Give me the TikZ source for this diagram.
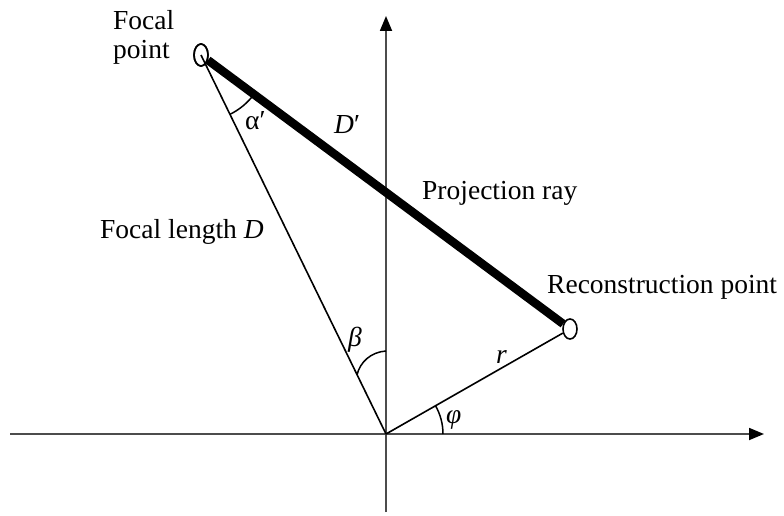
\documentclass[tikz,border=0pt]{standalone}
\usepackage{fontspec}
\setmainfont{Liberation Serif}
\usetikzlibrary{arrows.meta,shapes.geometric}
\begin{document}
\begin{tikzpicture}[x=1pt,y=-1pt,
  lbl/.style={anchor=base west,inner sep=0pt,font=\fontsize{27.5}{30}\selectfont},
  axisline/.style={draw=black!70,line width=1.8pt,-{Triangle[length=15pt,width=12pt,fill=black,color=black]}},
  rayline/.style={draw=black,line width=1.6pt},
  thickray/.style={draw=black,line width=8.5pt},
  anglearc/.style={draw=black,line width=1.5pt},
  ptmark/.style={ellipse,draw=black,line width=1.6pt,minimum width=14pt,minimum height=22pt,inner sep=0pt,fill=white}
]
\useasboundingbox (0,0) rectangle (784,516);
\coordinate (O) at (386,434);
\coordinate (xs) at (10,434);
\coordinate (xe) at (764,434);
\coordinate (ys) at (386,512);
\coordinate (ye) at (386,16);
\draw[axisline] (xs) -- (xe);
\draw[axisline] (ys) -- (ye);
\node[ptmark] (F) at (201,55) {};
\node[ptmark,minimum height=20pt] (R) at (570,329) {};
\draw[rayline] (F.center) -- (O);
\draw[rayline] (O) -- (R);
\draw[thickray] (F) -- (R);
\node[ptmark,fill=none] at (F.center) {};
% angle arcs
\draw[anglearc] ([shift={(63.98:66)}]F.center) arc[start angle=63.98,end angle=36.6,radius=66];
\draw[anglearc] ([shift={(0:57)}]O) arc[start angle=0,end angle=-30,radius=57];
\coordinate (b1) at (386,351);
\coordinate (b2) at (357,375);
\draw[anglearc] (b1) .. controls (371,352) and (360,362) .. (b2);
% labels
\node[lbl] (lfocal) at (113,30) {Focal};
\node[lbl] (lpoint) at (113,59) {point};
\node[lbl] (lalpha) at (245,130) {α′};
\node[lbl] (ldp) at (334,133) {\textit{D}′};
\node[lbl] (lproj) at (422,199) {Projection ray};
\node[lbl] (lflen) at (100,238) {Focal length \textit{D}};
\node[lbl] (lrec) at (547,293) {Reconstruction point};
\node[lbl] (lbeta) at (348,346) {\textit{β}};
\node[lbl] (lr) at (496,363) {\textit{r}};
\node[lbl] (lphi) at (446,423) {\textit{φ}};
\end{tikzpicture}
\end{document}
